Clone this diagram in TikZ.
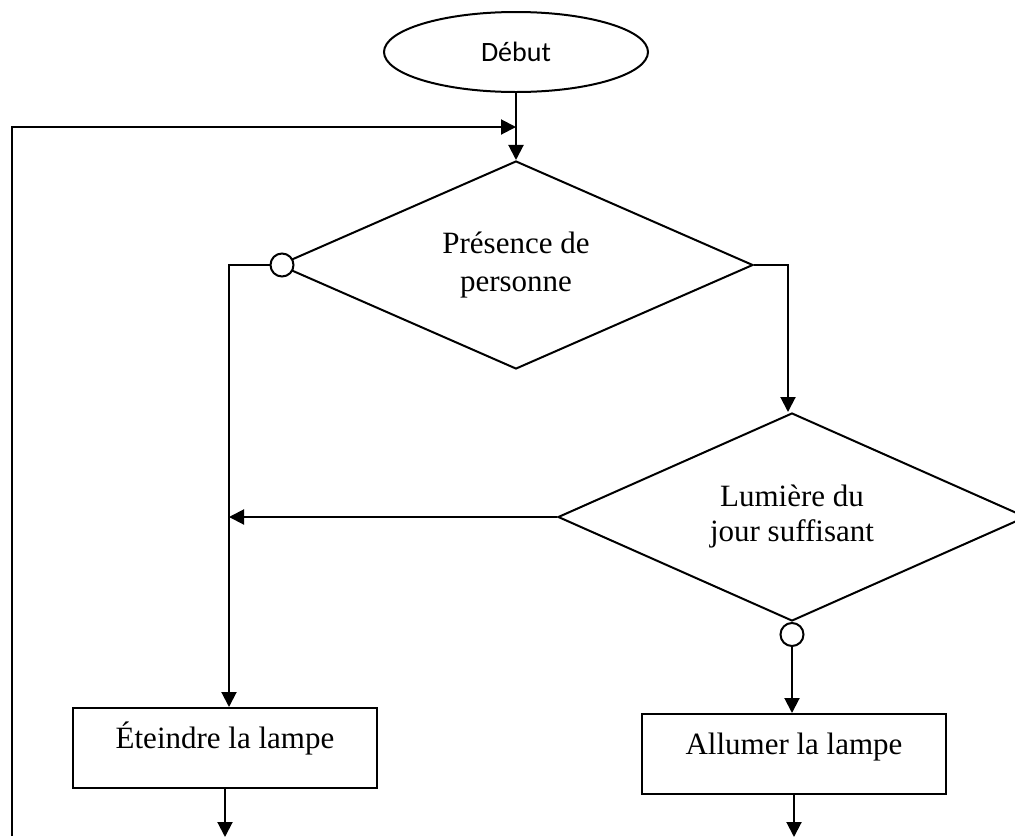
\documentclass[tikz,border=0pt]{standalone}
\usepackage{fontspec}
\setmainfont{Liberation Serif}
\newfontfamily\calibri{Carlito}
\usetikzlibrary{shapes.geometric, arrows.meta}
\tikzstyle{startstop} = [ellipse, minimum width=264pt, minimum height=80pt, draw=black, line width=2pt, font=\calibri\fontsize{28}{34}\selectfont]
\tikzstyle{decision} = [diamond, aspect=2.3, inner sep=0pt, minimum width=474pt, minimum height=208pt, align=center, draw=black, line width=2pt, font=\fontsize{31}{38}\selectfont]
\tikzstyle{process} = [rectangle, minimum width=304pt, minimum height=80pt, text height=31pt, text depth=31pt, inner sep=4pt, draw=black, line width=2pt, font=\fontsize{31}{38}\selectfont]
\tikzstyle{dot} = [circle, minimum size=23pt, inner sep=0pt, draw=black, fill=white, line width=2pt]
\tikzstyle{arrow} = [line width=2pt,-{Triangle[length=15pt,width=15pt]}]

\begin{document}
\begin{tikzpicture}[node distance=213pt]
\useasboundingbox (0pt,0pt) rectangle (1015pt,-836pt);

\node (start) [startstop] at (516pt,-52pt) {Début};
\node (presence) [decision, below of=start] {Présence de\\personne};
\node (lumiere) [decision, minimum width=468pt, font=\fontsize{31}{35}\selectfont, below of=presence, xshift=276pt, yshift=-39pt] {Lumière du\\jour suffisant};
\node (eteindre) [process, below of=presence, xshift=-291pt, yshift=-270pt] {Éteindre la lampe};
\node (allumer) [process, below of=lumiere, xshift=2pt, yshift=-24pt] {Allumer la lampe};
\node (nonPresence) [dot, xshift=4pt] at (presence.west) {};
\node (ouiLumiere) [dot, anchor=north] at (lumiere.south) {};

\coordinate (back) at (12pt,-836pt);
\coordinate (join) at ([yshift=-34pt]start.south);
\coordinate (gauche) at ([xshift=4pt]eteindre.north);
\coordinate (finA) at ([yshift=-48pt]eteindre.south);
\coordinate (finB) at ([yshift=-42pt]allumer.south);

\draw [arrow] (start) -- (presence);
\draw [arrow] (back) |- (join);
\draw [arrow] (nonPresence.west) -| (gauche);
\draw [arrow] (presence.east) -| ([xshift=-4pt]lumiere.north);
\draw [arrow] (lumiere.west) -- (lumiere.west -| gauche);
\draw [arrow] (ouiLumiere) -- (ouiLumiere |- allumer.north);
\draw [arrow] (eteindre) -- (finA);
\draw [arrow] (allumer) -- (finB);

\end{tikzpicture}
\end{document}
